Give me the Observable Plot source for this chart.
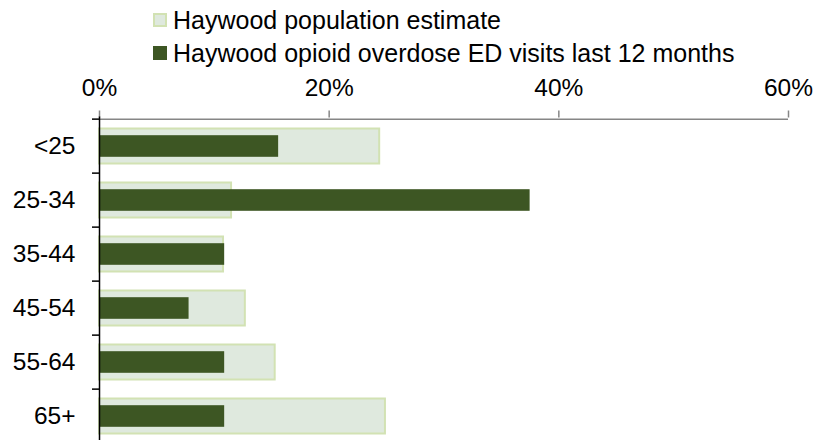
<!DOCTYPE html>
<html>
<head>
<meta charset="utf-8">
<script src="https://cdn.jsdelivr.net/npm/d3@7"></script>
<script src="https://cdn.jsdelivr.net/npm/@observablehq/plot@0.6"></script>
<style>
  html, body { margin: 0; padding: 0; background: #fff; overflow: hidden; }
  body { width: 814px; height: 440px; font-family: "Liberation Sans", Arial, sans-serif; }
  #legend { position: relative; width: 814px; height: 70px; }
  .item { position: absolute; left: 153px; display: flex; align-items: center; font-size: 25px; color: #000; white-space: nowrap; }
  .sw { width: 14px; height: 14px; box-sizing: border-box; margin-right: 6px; }
</style>
</head>
<body>
<div id="legend"></div>
<div id="chart"></div>
<script>
const categories = ["<25", "25-34", "35-44", "45-54", "55-64", "65+"];
const populationEstimate = [24.4, 11.5, 10.8, 12.7, 15.3, 24.9];
const edVisits = [15.6, 37.5, 10.9, 7.8, 10.9, 10.9];
const seriesNames = ["Haywood population estimate", "Haywood opioid overdose ED visits last 12 months"];
const xTicks = [0, 20, 40, 60];

const popFill = "#dfe9de", popStroke = "#d2e2b3", darkFill = "#3d5623";

// legend
const legend = document.getElementById("legend");
[[popFill, popStroke, 20], [darkFill, darkFill, 53]].forEach(([f, s, cy], i) => {
  const it = document.createElement("div");
  it.className = "item";
  it.style.top = (cy - 15) + "px";
  it.style.height = "30px";
  const sw = document.createElement("span");
  sw.className = "sw";
  sw.style.background = f;
  sw.style.border = "2px solid " + s;
  const tx = document.createElement("span");
  tx.textContent = seriesNames[i];
  it.appendChild(sw); it.appendChild(tx);
  legend.appendChild(it);
});

const data = categories.map((c, i) => ({cat: c, pop: populationEstimate[i], ed: edVisits[i]}));

const H = 380, MT = 46.5, MB = 5;
const step = (H - MT - MB) / categories.length;

const plot = Plot.plot({
  width: 814,
  height: H,
  marginTop: MT,
  marginBottom: MB,
  marginLeft: 99,
  marginRight: 26,
  style: {fontFamily: "'Liberation Sans', Arial, sans-serif", fontSize: "24px", color: "#000", background: "#fff"},
  x: {domain: [0, 60], axis: null, label: null},
  y: {domain: categories, padding: 0, axis: null, label: null},
  marks: [
    Plot.barX(data, {y: "cat", x: "pop", fill: popFill, stroke: popStroke, strokeWidth: 2, insetTop: 9.5, insetBottom: 9.5}),
    Plot.barX(data, {y: "cat", x: "ed", fill: darkFill, insetTop: 16.2, insetBottom: 16.2}),
    // x axis line on top (top edge of first band)
    Plot.ruleY([categories[0]], {x1: 0, x2: 60, dy: -step / 2, stroke: "#868686", strokeWidth: 1.5}),
    Plot.axisX(xTicks, {anchor: "top", label: null, tickSize: 7, tickPadding: 14, stroke: "#868686", strokeWidth: 1.5, strokeOpacity: 1, tickFormat: d => d + "%", fill: "#000", fontSize: 24.5}),
    // y axis line
    Plot.ruleX([0], {stroke: "#000", strokeWidth: 1.5}),
    // y ticks at band boundaries
    Plot.axisY(categories, {anchor: "left", label: null, tickSize: 7, stroke: "#000", strokeWidth: 1.5, strokeOpacity: 1, dy: -step / 2, tickFormat: () => ""}),
    // y labels
    Plot.axisY(categories, {anchor: "left", label: null, tickSize: 0, tickPadding: 24, fill: "#000", fontSize: 24.5})
  ]
});
document.getElementById("chart").appendChild(plot);
</script>
</body>
</html>
